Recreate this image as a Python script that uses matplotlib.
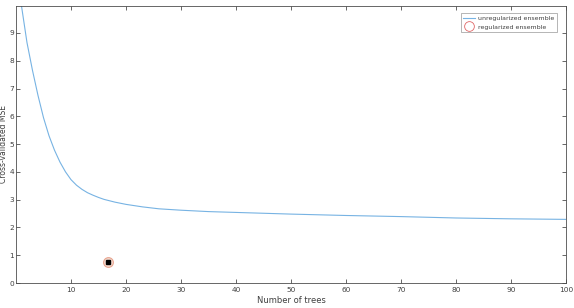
import matplotlib
matplotlib.use("Agg")
import matplotlib.pyplot as plt
from matplotlib.lines import Line2D

# Valores
trees = [1, 2, 3, 4, 5, 6, 7, 8, 9, 10, 11, 12, 13, 14, 15, 16, 18, 20, 23,
         26, 30, 35, 40, 45, 50, 60, 70, 80, 90, 100]
mse_unreg = [9.97, 8.65, 7.65, 6.75, 5.95, 5.3, 4.78, 4.35, 4.0, 3.72, 3.52,
             3.37, 3.25, 3.16, 3.08, 3.01, 2.91, 2.83, 2.74, 2.67, 2.62, 2.57,
             2.54, 2.51, 2.48, 2.43, 2.39, 2.34, 2.31, 2.29]
reg_trees = [16.8]
reg_mse = [0.76]

xticks = [10, 20, 30, 40, 50, 60, 70, 80, 90, 100]
yticks = [0, 1, 2, 3, 4, 5, 6, 7, 8, 9]

axis_color = "#4d4d4d"
text_color = "#404040"

fig = plt.figure(figsize=(5.74, 3.08), dpi=100)
ax = fig.add_axes([16 / 574, 1 - 283 / 308, 550 / 574, 277 / 308])

ax.plot(trees, mse_unreg, color="#77b3e3", linewidth=0.8)
ax.plot(reg_trees, reg_mse, "o", markersize=7, markerfacecolor="#f6ddd2",
        markeredgecolor="#e8a48f", markeredgewidth=0.8)
ax.plot(reg_trees, reg_mse, "s", markersize=3.2, color="black")

ax.set_xlim(0, 100)
ax.set_ylim(0, 9.97)
ax.set_xticks(xticks)
ax.set_yticks(yticks)
ax.tick_params(direction="in", length=3, width=0.6, colors=axis_color,
               labelsize=5.3, labelcolor=text_color, top=True, right=True,
               pad=3)
ax.tick_params(axis="y", pad=1.5)
for s in ax.spines.values():
    s.set_color(axis_color)
    s.set_linewidth(0.6)

ax.set_xlabel("Number of trees", fontsize=6, color=text_color, labelpad=2)
ax.set_ylabel("Cross-validated MSE", fontsize=5.5, color=text_color,
              va="center")
ax.yaxis.set_label_coords(-0.022, 0.5)

handles = [
    Line2D([], [], color="#77b3e3", linewidth=0.8),
    Line2D([], [], marker="o", linestyle="none", markersize=7,
           markerfacecolor="none", markeredgecolor="#e06666",
           markeredgewidth=0.6),
]
leg = ax.legend(handles, ["unregularized ensemble", "regularized ensemble"],
                loc="upper right", fontsize=4.5, frameon=True, fancybox=False,
                edgecolor="#7f7f7f", borderpad=0.45, handlelength=1.8,
                handletextpad=0.6, labelspacing=0.45,
                bbox_to_anchor=(0.99, 0.985))
leg.get_frame().set_linewidth(0.5)
for t in leg.get_texts():
    t.set_color(text_color)

fig.savefig("out.png", dpi=100)
